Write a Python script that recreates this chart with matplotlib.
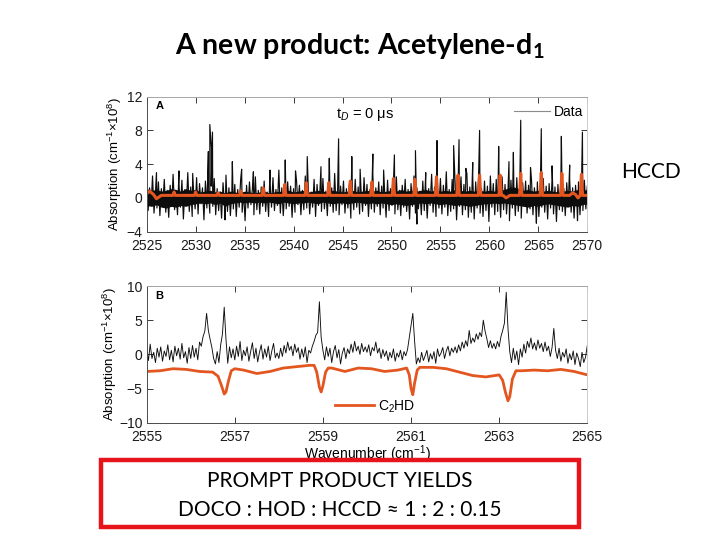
import numpy as np
import matplotlib
matplotlib.use("Agg")
import matplotlib.pyplot as plt
from matplotlib.lines import Line2D
from matplotlib.patches import Rectangle

plt.rcParams['font.family'] = ['Liberation Sans', 'DejaVu Sans']
plt.rcParams['mathtext.fontset'] = 'custom'
plt.rcParams['mathtext.rm'] = 'Liberation Sans'
plt.rcParams['mathtext.it'] = 'Liberation Sans:italic'
plt.rcParams['mathtext.bf'] = 'Lato:bold'

# ---- panel A : survey scan, tD = 0 us ----
noise_a = [1.8, -1.5, 1.2, -0.9, 2.6, -1.8, 0.7, -1.2, 1.9, -2.1, 1.1, -0.6, 2.2, -1.7, 0.9, -2.3, 1.5, -1.0, 2.8, -1.4,
           0.8, -2.0, 1.6, -1.1, 2.1, -2.5, 1.0, -0.8, 3.0, -1.6, 1.3, -2.2, 0.6, -1.3, 2.4, -1.9, 1.7, -0.7, 1.2, -2.6,
           2.0, -1.2, 0.9, -1.8, 1.4, -1.0, 2.3, -2.0, 1.1, -1.5, 0.7, -2.4, 1.8, -0.9, 2.7, -1.6, 1.2, -2.1, 0.8, -1.3,
           1.6, -2.2, 1.0, -1.1, 2.2, -1.7, 0.6, -2.7, 1.5, -1.2, 1.9, -0.8, 1.1, -2.0, 2.5, -1.4, 0.9, -1.9, 1.3, -1.0,
           2.0, -1.6, 0.7, -2.2, 1.7, -1.1, 2.4, -1.5, 1.0, -0.9, 3.3, -1.8, 1.2, -2.1, 0.8, -1.3, 1.9, -1.0, 1.4, -2.3,
           1.1, -1.7, 2.1, -0.8, 1.5, -2.0, 0.9, -1.4, 2.6, -1.2, 1.3, -1.9, 0.7, -1.1, 2.2, -2.2, 1.6, -0.9, 1.0, -1.6,
           2.3, -1.3, 0.8, -2.1, 1.8, -1.0, 1.2, -1.7, 2.9, -1.5, 0.9, -2.0, 1.4, -0.8, 2.0, -1.8, 1.1, -1.2, 1.7, -2.4,
           0.9, -1.4, 2.2, -1.1, 1.3, -1.9, 0.7, -1.6, 2.4, -0.9, 1.6, -2.2, 1.0, -1.3, 2.7, -1.7, 1.2, -1.0, 1.9, -2.0,
           1.4, -1.2, 0.8, -2.3, 2.1, -1.5, 1.1, -0.9, 1.8, -1.9, 2.5, -1.4, 0.9, -2.1, 1.5, -1.1, 2.2, -1.6, 1.0, -2.5,
           1.7, -1.0, 2.6, -1.8, 1.2, -1.3, 0.8, -2.0, 2.0, -1.5, 1.4, -2.4, 1.1, -0.9, 2.8, -1.7, 1.3, -2.2, 0.9, -1.2,
           2.3, -1.9, 1.5, -1.1, 3.1, -2.1, 1.0, -1.6, 2.2, -1.3, 1.8, -2.6, 1.2, -1.0, 2.5, -2.0, 1.6, -1.4, 2.9, -2.3,
           1.3, -1.7, 2.4, -2.5, 1.9, -1.2, 2.7, -1.8, 1.1, -2.2, 2.0, -1.5, 1.4, -2.8, 2.6, -1.1, 1.7, -2.0, 2.2, -1.6,
           1.0, -2.3, 2.5, -1.4, 1.6, -1.9, 0.9, -2.7, 2.1, -1.2, 1.3, -2.1, 2.4, -1.6, 1.1, -2.4, 1.8, -1.0, 2.0, -1.8,
           1.5, -1.3, 2.2, -2.0, 1.2, -1.5, 1.9, -2.2, 1.0, -1.1, 2.3, -1.7, 1.4, -2.5, 1.7, -1.2, 2.1, -1.9, 1.3, -2.8,
           1.6, -1.4, 2.0, -1.6, 1.1, -2.1, 1.8, -1.0, 2.2, -1.7, 1.2, -2.4, 1.5, -1.1, 1.9, -2.0, 1.0, -1.5, 2.1, -1.3, 1.4]
# dense core of the noise band, two values per cm-1 (2525 ... 2570)
band_a_top = [1.1, 0.9, 1.0, 0.8, 0.9, 1.1, 1.0, 0.8, 1.1, 0.9, 1.0, 0.7, 0.8, 0.9, 0.7, 0.8,
              0.6, 0.8, 0.7, 0.6, 0.8, 0.7, 0.6, 0.7, 0.8, 0.6, 0.7, 0.8, 0.7, 0.9, 0.7, 0.8,
              0.9, 0.7, 0.8, 0.9, 0.8, 0.7, 0.9, 0.8, 0.7, 0.8, 0.9, 0.7, 0.8, 0.9, 0.8, 0.9,
              0.7, 0.8, 0.9, 0.8, 1.0, 0.8, 0.9, 0.8, 0.9, 1.0, 0.8, 0.9, 0.8, 0.9, 0.8, 1.0,
              0.9, 0.8, 0.9, 0.8, 0.9, 0.8, 0.9, 0.8, 0.9, 1.0, 1.2, 1.3, 1.1, 0.9, 1.0, 0.8,
              0.9, 0.8, 0.9, 0.8, 0.7, 0.8, 0.9, 0.8, 1.0, 0.9, 1.0]
band_a_bot = [-0.9, -1.0, -0.8, -1.1, -1.2, -1.0, -1.1, -0.9, -1.0, -0.8, -0.7, -0.6, -0.7, -0.6, -0.8, -0.6,
              -1.0, -0.7, -0.6, -0.5, -0.6, -0.5, -0.6, -0.5, -0.6, -0.5, -0.6, -0.7, -0.5, -0.6, -0.7, -0.6,
              -0.6, -0.5, -0.6, -0.7, -0.5, -0.6, -0.7, -0.6, -0.6, -0.7, -0.6, -0.5, -0.6, -0.7, -0.6, -0.7,
              -0.6, -0.7, -0.8, -0.7, -0.8, -0.9, -0.8, -0.7, -0.6, -0.7, -0.6, -0.7, -0.8, -0.7, -0.8, -0.9,
              -0.8, -0.9, -1.0, -0.9, -0.8, -0.7, -0.7, -0.6, -0.7, -0.6, -0.7, -0.8, -0.9, -1.0, -1.1, -0.9,
              -1.0, -0.8, -0.7, -0.8, -0.9, -1.0, -1.1, -0.9, -1.0, -0.8, -0.7]
spike_a_x = [2526.0, 2528.3, 2529.7, 2531.3, 2531.45, 2531.6, 2531.72, 2533.0, 2533.75, 2534.7, 2535.9,
             2537.6, 2539.15, 2540.2, 2541.4, 2542.8, 2543.65, 2544.6, 2545.95, 2546.8, 2548.1, 2549.2,
             2550.3, 2552.45, 2552.6, 2553.5, 2554.65, 2556.35, 2556.9, 2557.6, 2558.3, 2559.0, 2560.95,
             2562.0, 2562.45, 2563.2, 2564.2, 2564.8, 2565.3, 2566.4, 2567.35, 2568.2, 2569.0, 2569.5]
spike_a_y = [3.0, 3.2, 2.9, 5.5, 8.7, 6.0, 7.8, -2.6, 4.3, 3.4, 3.1,
             3.3, 4.5, 3.2, 4.9, 3.7, 4.7, 7.0, 4.9, 3.4, 5.2, 3.3,
             5.1, 5.6, -3.1, 3.0, 6.8, 6.2, 6.9, 3.5, 4.2, 8.0, 6.1,
             4.3, 5.4, 9.2, 3.6, -3.0, 8.2, 3.8, 7.3, 3.9, -2.7, 7.8]

fit_a_peak_x = [2527.8, 2530.0, 2532.3, 2534.6, 2536.9, 2539.1, 2541.3, 2543.6, 2545.8, 2548.0,
                2550.2, 2552.4, 2554.6, 2556.8, 2559.0, 2561.1, 2563.2, 2565.3, 2567.4, 2569.4]
fit_a_peak_y = [0.7, 0.7, 0.6, 0.8, 1.2, 1.6, 1.8, 1.8, 2.0, 1.9,
                2.3, 2.2, 2.5, 2.7, 2.7, 2.7, 2.9, 3.0, 2.9, 2.8]
fit_a_base_x = [2525.0, 2525.3, 2525.7, 2526.0, 2526.5, 2561.4, 2561.7, 2562.1,
                2568.2, 2568.5, 2568.8, 2569.05, 2570.0]
fit_a_base_y = [0.5, 0.8, 0.4, -0.1, 0.3, 0.3, 0.0, 0.3, 0.3, 0.6, 0.4, 0.0, 0.3]

# ---- panel B : zoom 2555-2565 with C2HD reference ----
data_b = [0.8, -0.9, 1.5, -0.6, 0.3, -1.2, 0.9, -0.4, 1.1, -1.0, 0.5, -0.3, 1.4, -0.8, 0.6, -1.1, 1.2, -0.2, 0.9, -0.7, 1.6, -0.5, 0.4, -1.3, 1.0,
          -0.6, 1.3, -0.4, 0.9, -0.8, 1.8, 1.2, 2.6, 3.4, 6.0, 3.5, 2.2, 1.0, -0.6, -1.4, 0.4, -1.2, 1.4, 3.0, 6.9, 2.2, -1.3, 1.1, -0.5, 0.8,
          -0.8, 1.2, -0.3, 1.9, -0.9, 0.6, -0.2, 1.1, -1.0, 0.4, 1.7, -0.6, 0.9, -1.1, 0.3, 1.4, -0.7, 0.8, -0.4, 1.2, -0.9, 0.5, 1.6, -0.5, 0.2,
          -0.6, 0.9, -0.3, 1.3, 0.2, 1.8, 0.6, 1.2, -0.2, 1.5, 0.3, 1.0, -0.7, 0.8, -0.4, 1.1, -1.2, 0.6, 0.2, 1.2, 1.9, 2.8, 3.2, 7.7, 2.5,
          0.6, -0.8, 1.1, -0.3, 0.9, -1.2, 0.4, 1.3, -0.5, 0.7, -1.4, 0.2, 1.0, -0.6, 0.8, 0.1, 1.5, 0.3, 1.9, 0.5, 1.2, 0.0, 1.6, 0.4, 1.1,
          0.3, 1.4, -0.2, 1.0, 0.5, 1.8, 0.2, 0.9, -0.6, 0.7, -0.3, 0.5, -0.9, 0.3, -0.5, 0.8, -1.0, 0.2, -0.4, 0.6, -0.8, 0.4, -0.2, 0.7, 2.5,
          4.2, 6.0, 2.0, -1.4, -0.5, -1.2, 0.3, -0.9, -0.2, 0.6, -1.1, 0.1, -0.7, 0.4, -1.3, 0.8, -0.3, 0.2, 1.0, -0.6, 0.5, 1.2, -0.2, 0.9, 0.3,
          1.1, 0.2, 1.4, 0.5, 1.8, 0.9, 2.0, 1.2, 3.5, 1.6, 2.4, 1.8, 3.0, 2.2, 3.2, 2.6, 5.0, 3.4, 2.3, 1.0, 2.0, 0.9, 1.6, 0.8, 1.9,
          1.1, 2.6, 3.5, 4.6, 9.1, 3.8, 0.4, -1.2, 0.9, -0.8, 0.5, -1.5, 0.8, -0.4, 1.5, 0.2, 1.9, 1.0, 2.4, 0.8, 1.7, 0.6, 2.1, 0.9, 1.6,
          0.4, 1.8, 0.5, 1.2, -0.3, 1.0, 3.8, 0.6, -0.6, 0.9, -1.0, 0.3, -0.4, 0.8, -1.3, 0.1, -0.8, 0.5, -1.5, 0.2, -0.6, -1.8, 0.3, -1.2, -0.4, 1.3]

c2hd_x = [2555.0, 2555.3, 2555.6, 2555.9, 2556.2, 2556.5, 2556.62, 2556.7, 2556.76, 2556.8, 2556.86, 2556.92,
          2557.0, 2557.2, 2557.5, 2557.8, 2558.1, 2558.4, 2558.7, 2558.8, 2558.86, 2558.92, 2558.96, 2559.0,
          2559.06, 2559.12, 2559.2, 2559.5, 2559.8, 2560.1, 2560.4, 2560.7, 2560.9, 2560.96, 2561.0, 2561.04,
          2561.08, 2561.14, 2561.2, 2561.5, 2561.8, 2562.1, 2562.4, 2562.7, 2563.0, 2563.08, 2563.14, 2563.2,
          2563.24, 2563.3, 2563.38, 2563.5, 2563.8, 2564.1, 2564.4, 2564.7, 2565.0]
c2hd_y = [-2.5, -2.4, -2.1, -2.2, -2.5, -2.6, -3.2, -4.6, -5.8, -5.5, -3.8, -2.4,
          -2.1, -2.3, -2.8, -2.5, -2.0, -1.8, -1.6, -1.6, -2.6, -4.8, -5.5, -4.6,
          -2.6, -2.0, -2.0, -2.5, -2.0, -2.1, -2.5, -2.3, -2.0, -3.0, -5.0, -5.9,
          -4.2, -2.3, -1.9, -1.9, -2.1, -2.6, -3.1, -3.3, -3.0, -3.8, -5.5, -6.8,
          -6.2, -3.6, -2.4, -2.4, -2.3, -2.4, -2.2, -2.5, -3.0]

orange = '#E3561F'
slide_font = ['Lato', 'DejaVu Sans']


def style_axes(ax):
    ax.tick_params(direction='in', length=4, width=0.6, top=True, right=True,
                   labelsize=10, colors='0.1', pad=3)
    ax.tick_params(axis='x', pad=5)
    for s in ax.spines.values():
        s.set_linewidth(0.7)
        s.set_color('0.3')
    ax.spines['top'].set_color('0.65')
    ax.spines['right'].set_color('0.8')


fig = plt.figure(figsize=(7.2, 5.4), dpi=100)

# panel A
axA = fig.add_axes([0.2037, 0.571, 0.612, 0.25])
xb = np.linspace(2525, 2570, len(band_a_top))
axA.fill_between(xb, band_a_bot, band_a_top, color='0.05', lw=0)
xa = np.concatenate([np.linspace(2525, 2570, len(noise_a)), spike_a_x])
ya = np.concatenate([noise_a, spike_a_y])
order = np.argsort(xa)
axA.plot(xa[order], ya[order], color='0.05', lw=0.85)

fx, fy = list(fit_a_base_x), list(fit_a_base_y)
for p, h in zip(fit_a_peak_x, fit_a_peak_y):
    fx += [p - 0.12, p, p + 0.12]
    fy += [0.3, h, 0.3]
fx, fy = np.array(fx), np.array(fy)
o = np.argsort(fx)
axA.plot(fx[o], fy[o], color=orange, lw=2.2)

axA.set_xlim(2525, 2570)
axA.set_ylim(-4, 12)
axA.set_xticks(np.arange(2525, 2571, 5))
axA.set_yticks([-4, 0, 4, 8, 12])
axA.set_ylabel('Absorption (cm$^{-1}$×10$^{8}$)', fontsize=9.5, labelpad=2)
style_axes(axA)
axA.text(0.02, 0.93, 'A', transform=axA.transAxes, fontsize=8, fontweight='bold', va='center')
axA.text(0.43, 0.87, 't$_D$ = 0 μs', transform=axA.transAxes, fontsize=10.5, va='center')
axA.legend([Line2D([], [], color='0.55', lw=0.8)], ['Data'], loc='center left',
           bbox_to_anchor=(0.82, 0.89), frameon=False, fontsize=10, handlelength=2.6,
           handletextpad=0.3, borderaxespad=0)

# panel B
axB = fig.add_axes([0.2037, 0.2172, 0.612, 0.2531])
axB.plot(np.linspace(2555, 2565, len(data_b)), data_b, color='0.05', lw=0.65)
lineB, = axB.plot(c2hd_x, c2hd_y, color=orange, lw=2.0)
axB.set_xlim(2555, 2565)
axB.set_ylim(-10, 10)
axB.set_xticks(np.arange(2555, 2566, 2))
axB.set_yticks([-10, -5, 0, 5, 10])
axB.set_ylabel('Absorption (cm$^{-1}$×10$^{8}$)', fontsize=9.5, labelpad=0)
axB.set_xlabel('Wavenumber (cm$^{-1}$)', fontsize=10, labelpad=0)
style_axes(axB)
axB.text(0.02, 0.93, 'B', transform=axB.transAxes, fontsize=8, fontweight='bold', va='center')
axB.legend([lineB], ['C$_2$HD'], loc='center left', bbox_to_anchor=(0.415, 0.12),
           frameon=False, fontsize=10, handlelength=2.8, handletextpad=0.3, borderaxespad=0)

# slide text
fig.text(0.5, 1 - 46 / 540, 'A new product: Acetylene-d$_\\mathbf{1}$', ha='center', va='center',
         fontsize=20.5, fontweight='bold', family=slide_font)
fig.text(651 / 720, 1 - 172 / 540, 'HCCD', ha='center', va='center', fontsize=15, family=slide_font)

fig.patches.append(Rectangle((101 / 720, 1 - 527 / 540), 478 / 720, 67 / 540, transform=fig.transFigure,
                             fill=False, edgecolor='#E8141B', lw=3.2))
fig.text(340 / 720, 1 - 481 / 540, 'PROMPT PRODUCT YIELDS', ha='center', va='center',
         fontsize=15, family=slide_font)
fig.text(340 / 720, 1 - 510 / 540, 'DOCO : HOD : HCCD ≈ 1 : 2 : 0.15', ha='center', va='center',
         fontsize=15, family=slide_font)

fig.savefig('out.png', dpi=100)
